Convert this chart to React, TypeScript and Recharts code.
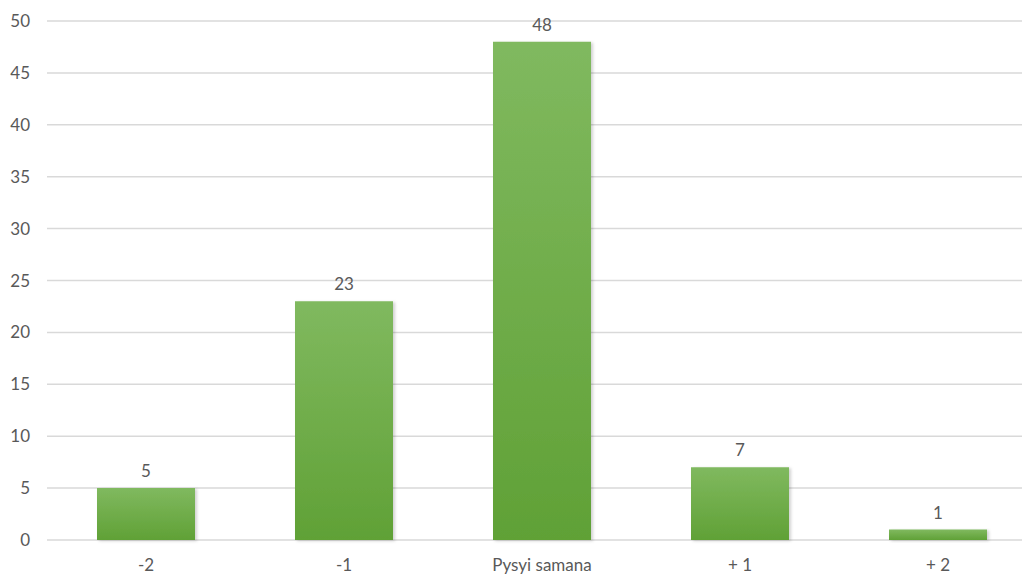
import { BarChart, Bar, XAxis, YAxis, CartesianGrid, LabelList } from "recharts";

const categories = ["-2", "-1", "Pysyi samana", "+ 1", "+ 2"];
const counts = [5, 23, 48, 7, 1];
const yTicks = [0, 5, 10, 15, 20, 25, 30, 35, 40, 45, 50];

const data = categories.map((name, i) => ({ name, value: counts[i] }));

const textColor = "#595959";
const font = "Lato, 'Open Sans', sans-serif";

export default function App() {
  return (
    <div style={{ position: "absolute", left: 0, top: 0, width: 1022, height: 579, overflow: "hidden", background: "#fff" }}>
      <BarChart width={1037} height={579} data={data} margin={{ top: 21, right: 0, left: 0, bottom: 0 }}>
        <defs>
          <linearGradient id="barGrad" x1="0" y1="0" x2="0" y2="1">
            <stop offset="0%" stopColor="#80b95f" />
            <stop offset="100%" stopColor="#60a136" />
          </linearGradient>
          <filter id="shadow" x="-10%" y="-10%" width="130%" height="130%">
            <feDropShadow dx="2" dy="1" stdDeviation="1.5" floodColor="#000" floodOpacity="0.18" />
          </filter>
        </defs>
        <CartesianGrid vertical={false} stroke="#d9d9d9" strokeWidth={1.5} />
        <XAxis
          dataKey="name"
          axisLine={false}
          tickLine={false}
          height={39}
          tick={{ fill: textColor, fontSize: 17, fontFamily: font }}
          dy={11}
        />
        <YAxis
          domain={[0, 50]}
          ticks={yTicks}
          axisLine={false}
          tickLine={false}
          width={47}
          tick={{ fill: textColor, fontSize: 17, fontFamily: font }}
          dx={-9}
        />
        <Bar dataKey="value" fill="url(#barGrad)" barSize={98} isAnimationActive={false} filter="url(#shadow)">
          <LabelList dataKey="value" position="top" offset={11} fill={textColor} fontSize={17} fontFamily={font} />
        </Bar>
      </BarChart>
    </div>
  );
}
